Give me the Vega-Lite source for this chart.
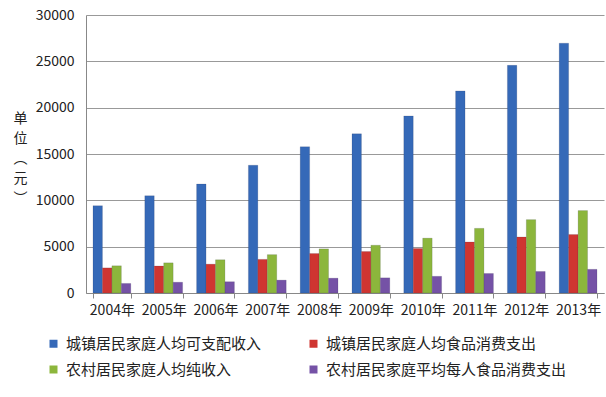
{
  "$schema": "https://vega.github.io/schema/vega-lite/v6.json",
  "autosize": "none",
  "width": 518,
  "height": 278,
  "padding": {"left": 86, "top": 15, "right": 2, "bottom": 104},
  "background": "white",
  "config": {
    "font": "Noto Sans CJK SC",
    "view": {"stroke": null}
  },
  "data": {
    "values": [
      {"year": "2004年", "series": "城镇居民家庭人均可支配收入", "value": 9422},
      {"year": "2005年", "series": "城镇居民家庭人均可支配收入", "value": 10493},
      {"year": "2006年", "series": "城镇居民家庭人均可支配收入", "value": 11759},
      {"year": "2007年", "series": "城镇居民家庭人均可支配收入", "value": 13786},
      {"year": "2008年", "series": "城镇居民家庭人均可支配收入", "value": 15781},
      {"year": "2009年", "series": "城镇居民家庭人均可支配收入", "value": 17175},
      {"year": "2010年", "series": "城镇居民家庭人均可支配收入", "value": 19109},
      {"year": "2011年", "series": "城镇居民家庭人均可支配收入", "value": 21810},
      {"year": "2012年", "series": "城镇居民家庭人均可支配收入", "value": 24565},
      {"year": "2013年", "series": "城镇居民家庭人均可支配收入", "value": 26955},
      {"year": "2004年", "series": "城镇居民家庭人均食品消费支出", "value": 2710},
      {"year": "2005年", "series": "城镇居民家庭人均食品消费支出", "value": 2914},
      {"year": "2006年", "series": "城镇居民家庭人均食品消费支出", "value": 3112},
      {"year": "2007年", "series": "城镇居民家庭人均食品消费支出", "value": 3628},
      {"year": "2008年", "series": "城镇居民家庭人均食品消费支出", "value": 4260},
      {"year": "2009年", "series": "城镇居民家庭人均食品消费支出", "value": 4479},
      {"year": "2010年", "series": "城镇居民家庭人均食品消费支出", "value": 4805},
      {"year": "2011年", "series": "城镇居民家庭人均食品消费支出", "value": 5506},
      {"year": "2012年", "series": "城镇居民家庭人均食品消费支出", "value": 6041},
      {"year": "2013年", "series": "城镇居民家庭人均食品消费支出", "value": 6311},
      {"year": "2004年", "series": "农村居民家庭人均纯收入", "value": 2936},
      {"year": "2005年", "series": "农村居民家庭人均纯收入", "value": 3255},
      {"year": "2006年", "series": "农村居民家庭人均纯收入", "value": 3587},
      {"year": "2007年", "series": "农村居民家庭人均纯收入", "value": 4140},
      {"year": "2008年", "series": "农村居民家庭人均纯收入", "value": 4761},
      {"year": "2009年", "series": "农村居民家庭人均纯收入", "value": 5153},
      {"year": "2010年", "series": "农村居民家庭人均纯收入", "value": 5919},
      {"year": "2011年", "series": "农村居民家庭人均纯收入", "value": 6977},
      {"year": "2012年", "series": "农村居民家庭人均纯收入", "value": 7917},
      {"year": "2013年", "series": "农村居民家庭人均纯收入", "value": 8896},
      {"year": "2004年", "series": "农村居民家庭平均每人食品消费支出", "value": 1031},
      {"year": "2005年", "series": "农村居民家庭平均每人食品消费支出", "value": 1162},
      {"year": "2006年", "series": "农村居民家庭平均每人食品消费支出", "value": 1217},
      {"year": "2007年", "series": "农村居民家庭平均每人食品消费支出", "value": 1389},
      {"year": "2008年", "series": "农村居民家庭平均每人食品消费支出", "value": 1599},
      {"year": "2009年", "series": "农村居民家庭平均每人食品消费支出", "value": 1636},
      {"year": "2010年", "series": "农村居民家庭平均每人食品消费支出", "value": 1801},
      {"year": "2011年", "series": "农村居民家庭平均每人食品消费支出", "value": 2107},
      {"year": "2012年", "series": "农村居民家庭平均每人食品消费支出", "value": 2324},
      {"year": "2013年", "series": "农村居民家庭平均每人食品消费支出", "value": 2554}
    ]
  },
  "mark": {"type": "bar", "stroke": "#2a2a40", "strokeWidth": 0.3, "strokeOpacity": 0.5},
  "encoding": {
    "x": {
      "field": "year",
      "type": "nominal",
      "sort": null,
      "scale": {"paddingInner": 0.27, "paddingOuter": 0.135},
      "axis": {
        "title": null,
        "labelAngle": 0,
        "labelFontSize": 14,
        "labelColor": "#222222",
        "labelPadding": 5,
        "tickBand": "extent",
        "tickColor": "#888888",
        "tickSize": 5,
        "domainColor": "#888888"
      }
    },
    "xOffset": {
      "field": "series",
      "type": "nominal",
      "sort": null,
      "scale": {"paddingInner": 0.0}
    },
    "y": {
      "field": "value",
      "type": "quantitative",
      "scale": {"domain": [0, 30000], "nice": false},
      "axis": {
        "values": [0, 5000, 10000, 15000, 20000, 25000, 30000],
        "format": "d",
        "title": ["单", "位", "︵", "元", "︶"],
        "titleAngle": 0,
        "titleFontSize": 14,
        "titleFontWeight": "normal",
        "titleColor": "#222222",
        "titleX": -66,
        "titleY": 96,
        "titleLineHeight": 20,
        "titleAlign": "center",
        "titleBaseline": "top",
        "labelFontSize": 14,
        "labelColor": "#222222",
        "labelPadding": 12,
        "ticks": false,
        "domainColor": "#888888",
        "gridColor": "#999999",
        "gridWidth": 1
      }
    },
    "color": {
      "field": "series",
      "type": "nominal",
      "sort": null,
      "scale": {
        "domain": ["城镇居民家庭人均可支配收入", "城镇居民家庭人均食品消费支出", "农村居民家庭人均纯收入", "农村居民家庭平均每人食品消费支出"],
        "range": ["#3569b8", "#cf3531", "#8cb63c", "#7552a6"]
      },
      "legend": {
        "title": null,
        "orient": "none",
        "legendX": -40,
        "legendY": 321,
        "direction": "horizontal",
        "columns": 2,
        "columnPadding": 44,
        "rowPadding": 10,
        "symbolType": "square",
        "symbolSize": 64,
        "symbolStrokeWidth": 0,
        "labelFontSize": 15,
        "labelColor": "#222222",
        "labelLimit": 400,
        "labelOffset": 5
      }
    }
  }
}
